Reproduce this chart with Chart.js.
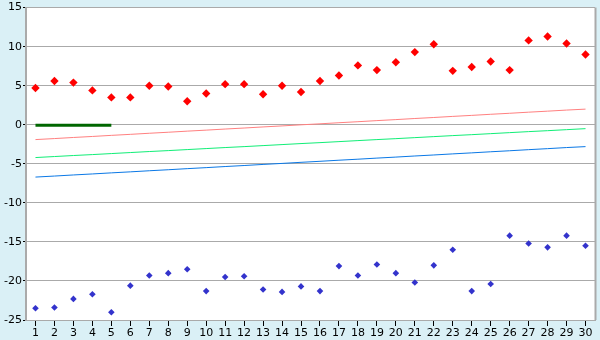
<!DOCTYPE html>
<html>
<head>
<meta charset="utf-8">
<script src="https://cdn.jsdelivr.net/npm/chart.js@4/dist/chart.umd.min.js"></script>
<style>
html,body{margin:0;padding:0;background:#DAF0F6;}
#wrap{width:600px;height:340px;}
</style>
</head>
<body>
<div id="wrap"><canvas id="c" width="600" height="340"></canvas></div>
<script>
const categories = ['1','2','3','4','5','6','7','8','9','10','11','12','13','14','15','16','17','18','19','20','21','22','23','24','25','26','27','28','29','30'];
const redPoints = [4.7,5.6,5.4,4.4,3.5,3.5,5.0,4.9,3.0,4.0,5.2,5.2,3.9,5.0,4.2,5.6,6.3,7.6,7.0,8.0,9.3,10.3,6.9,7.4,8.1,7.0,10.8,11.3,10.4,9.0];
const bluePoints = [-23.5,-23.4,-22.3,-21.7,-24.0,-20.6,-19.3,-19.0,-18.5,-21.3,-19.5,-19.4,-21.1,-21.4,-20.7,-21.3,-18.1,-19.3,-17.9,-19.0,-20.2,-18.0,-16.0,-21.3,-20.4,-14.2,-15.2,-15.7,-14.2,-15.5];
const redLine = [-1.9,-1.77,-1.63,-1.5,-1.36,-1.23,-1.09,-0.96,-0.82,-0.69,-0.55,-0.42,-0.28,-0.15,-0.01,0.12,0.26,0.39,0.53,0.66,0.8,0.93,1.07,1.2,1.34,1.47,1.61,1.74,1.88,2.0];
const greenLine = [-4.2,-4.07,-3.94,-3.82,-3.69,-3.56,-3.43,-3.31,-3.18,-3.05,-2.92,-2.8,-2.67,-2.54,-2.41,-2.29,-2.16,-2.03,-1.9,-1.78,-1.65,-1.52,-1.39,-1.27,-1.14,-1.01,-0.88,-0.76,-0.63,-0.5];
const blueLine = [-6.7,-6.57,-6.43,-6.3,-6.16,-6.03,-5.89,-5.76,-5.62,-5.49,-5.35,-5.22,-5.08,-4.95,-4.81,-4.68,-4.54,-4.41,-4.27,-4.14,-4.0,-3.87,-3.73,-3.6,-3.46,-3.33,-3.19,-3.06,-2.92,-2.8];
const darkGreenLine = [-0.05,-0.05,-0.05,-0.05,-0.05,null,null,null,null,null,null,null,null,null,null,null,null,null,null,null,null,null,null,null,null,null,null,null,null,null];
const yTicks = [15,10,5,0,-5,-10,-15,-20,-25];

const bgPlugin = {
  id:'bg',
  beforeDraw(chart){
    const {ctx, chartArea:a} = chart;
    ctx.save();
    ctx.fillStyle = '#DAF0F6';
    ctx.fillRect(0,0,chart.width,chart.height);
    ctx.fillStyle = '#FFFFFF';
    ctx.fillRect(a.left,a.top,a.right-a.left,a.bottom-a.top);
    ctx.restore();
  },
  afterDatasetsDraw(chart){
    const {ctx, chartArea:a} = chart;
    ctx.save();
    ctx.strokeStyle = '#AAAAAA';
    ctx.lineWidth = 2;
    ctx.beginPath();
    ctx.moveTo(a.right+0.5, a.top);
    ctx.lineTo(a.right+0.5, a.bottom);
    ctx.stroke();
    ctx.restore();
  }
};

const font = {family:'DejaVu Sans', size:11};

new Chart(document.getElementById('c'), {
  type:'line',
  data:{
    labels:categories,
    datasets:[
      {data:redPoints, showLine:false, pointStyle:'rectRot', pointRadius:4.2, pointBorderWidth:0, pointBackgroundColor:'#FF0000', borderColor:'#FF0000', order:1},
      {data:bluePoints, showLine:false, pointStyle:'rectRot', pointRadius:3.3, pointBorderWidth:0, pointBackgroundColor:'#3333CC', borderColor:'#3333CC', order:1},
      {data:darkGreenLine, borderColor:'#006600', borderWidth:3, pointRadius:0, spanGaps:false, order:2},
      {data:redLine, borderColor:'#FF8080', borderWidth:1, pointRadius:0, order:3},
      {data:greenLine, borderColor:'#11EE77', borderWidth:1, pointRadius:0, order:3},
      {data:blueLine, borderColor:'#0A78E6', borderWidth:1, pointRadius:0, order:3}
    ]
  },
  options:{
    responsive:false,
    animation:false,
    devicePixelRatio:1,
    layout:{padding:{top:5,right:5,left:0,bottom:0}},
    plugins:{legend:{display:false}, tooltip:{enabled:false}},
    scales:{
      x:{
        type:'category',
        offset:true,
        grid:{display:true, drawOnChartArea:false, offset:false, tickLength:6, tickColor:'#000000', color:'#000000'},
        border:{display:true, color:'#AAAAAA', width:1},
        ticks:{color:'#000000', font:font, padding:1, maxRotation:0, autoSkip:false},
        afterFit(s){ s.height = 20; }
      },
      y:{
        min:-25, max:15,
        afterBuildTicks(s){ s.ticks = yTicks.map(v=>({value:v})); },
        grid:{color:'#AAAAAA', lineWidth:1, tickLength:3, tickColor:'#000000'},
        border:{display:true, color:'#AAAAAA', width:2},
        ticks:{color:'#000000', font:font, padding:1},
        afterFit(s){ s.width = 26; }
      }
    }
  },
  plugins:[bgPlugin]
});
</script>
</body>
</html>
